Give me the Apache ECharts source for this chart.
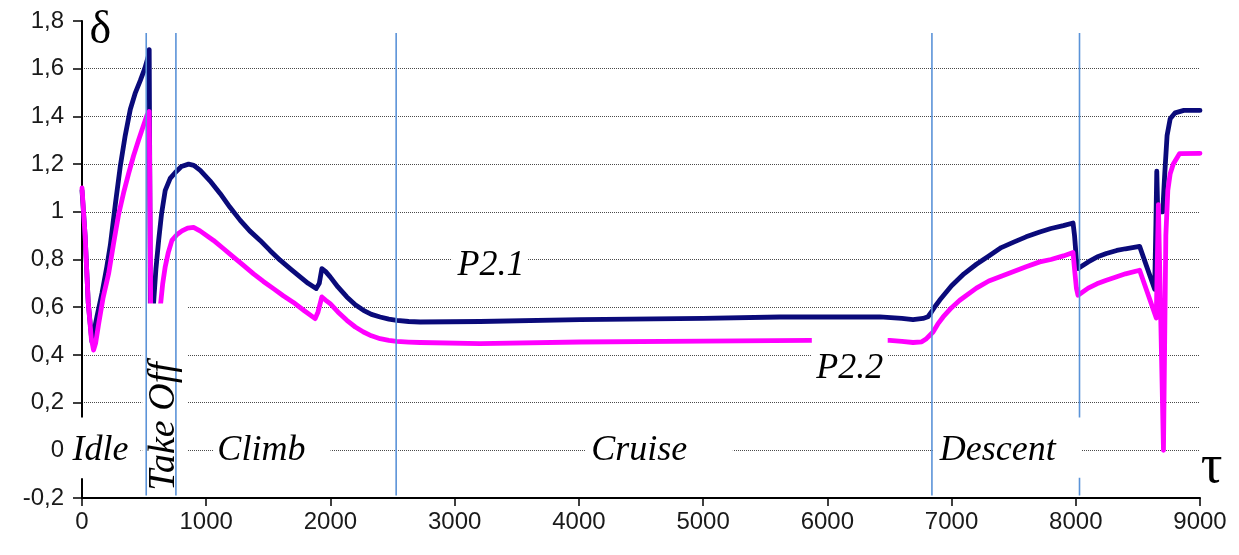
<!DOCTYPE html>
<html>
<head>
<meta charset="utf-8">
<script src="https://cdn.jsdelivr.net/npm/echarts@6/dist/echarts.min.js"></script>
<style>
html,body{margin:0;padding:0;background:#fff;}
#chart{width:1239px;height:555px;}
</style>
</head>
<body>
<div id="chart"></div>
<script>
// ---- data ----
const tauP21 = [0,25,50,80,120,161,200,228,268,308,348,389,430,469,505,533,541,547,552,568,576,595,617,640,670,710,751,800,858,900,952,1030,1113,1190,1274,1350,1434,1515,1595,1680,1756,1820,1885,1910,1931,1960,1998,2060,2132,2200,2266,2330,2400,2470,2534,2630,2722,3204,4009,5000,5618,6422,6600,6690,6770,6810,6838,6870,6905,7000,7100,7200,7300,7400,7500,7600,7710,7800,7900,7978,7990,8005,8018,8100,8170,8246,8330,8400,8514,8635,8645,8652,8660,8700,8715,8735,8760,8800,8870,9000];
const deltaP21 = [1.09,0.90,0.62,0.455,0.56,0.66,0.77,0.86,1.03,1.19,1.32,1.43,1.50,1.55,1.60,1.65,1.68,1.0,0.35,0.35,0.616,0.76,0.88,0.99,1.09,1.14,1.165,1.19,1.20,1.195,1.174,1.13,1.076,1.02,0.964,0.92,0.88,0.837,0.797,0.76,0.727,0.70,0.678,0.70,0.762,0.75,0.727,0.685,0.643,0.61,0.587,0.57,0.559,0.55,0.545,0.540,0.538,0.540,0.548,0.553,0.559,0.559,0.553,0.548,0.553,0.56,0.58,0.605,0.63,0.69,0.74,0.78,0.815,0.85,0.873,0.895,0.915,0.93,0.942,0.953,0.90,0.80,0.762,0.79,0.81,0.825,0.838,0.845,0.855,0.675,0.95,1.17,1.0,1.0,1.15,1.32,1.39,1.415,1.425,1.425];
const tauP22 = [0,25,50,75,93,110,134,170,214,255,295,335,375,415,455,490,523,541,548,556,600,630,650,670,695,724,765,805,850,898,950,1059,1140,1220,1300,1381,1460,1541,1620,1702,1790,1877,1900,1931,1960,1998,2060,2132,2200,2266,2330,2400,2470,2534,2630,2722,3204,4009,5000,5859,6503,6600,6690,6760,6798,6851,6890,6932,7000,7066,7200,7300,7400,7500,7600,7710,7800,7900,7978,7990,8005,8018,8100,8170,8246,8330,8400,8514,8648,8665,8706,8725,8741,8760,8785,8836,9000];
const deltaP22 = [1.10,0.90,0.62,0.47,0.42,0.45,0.53,0.64,0.74,0.87,0.99,1.08,1.16,1.235,1.30,1.355,1.405,1.42,1.0,0.35,0.35,0.6,0.7,0.77,0.83,0.88,0.905,0.92,0.932,0.935,0.92,0.88,0.845,0.81,0.775,0.74,0.708,0.678,0.648,0.62,0.585,0.552,0.58,0.643,0.63,0.615,0.58,0.545,0.517,0.496,0.48,0.468,0.461,0.457,0.454,0.452,0.447,0.454,0.458,0.461,0.461,0.457,0.452,0.455,0.468,0.496,0.53,0.559,0.598,0.629,0.68,0.71,0.73,0.75,0.77,0.79,0.80,0.815,0.829,0.76,0.68,0.65,0.68,0.698,0.713,0.728,0.74,0.755,0.555,1.03,0.0,0.9,1.09,1.16,1.2,1.244,1.245];
const phaseBounds = [517, 756, 2529, 6842, 8030];
const phaseNames = ['Idle', 'Take Off', 'Climb', 'Cruise', 'Descent'];
const seriesNames = ['P2.1', 'P2.2'];
const xTicks = [0, 9000, 1000];
const yTicks = [-0.2, 1.8, 0.2];

const toPairs = (xs, ys) => xs.map((x, i) => [x, ys[i]]);

const chart = echarts.init(document.getElementById('chart'));
const fmtY = v => { const r = Math.round(v * 10) / 10; return String(r).replace('.', ','); };
const splitColors = [];
for (let i = 0; i <= 10; i++) splitColors.push(i === 0 || i === 10 ? 'rgba(0,0,0,0)' : '#4a4a4a');

chart.setOption({
  animation: false,
  backgroundColor: '#fff',
  grid: { left: 82, right: 39, top: 21, bottom: 57, containLabel: false },
  xAxis: {
    type: 'value', min: xTicks[0], max: xTicks[1], interval: xTicks[2],
    axisLine: { onZero: false, lineStyle: { color: '#000', width: 2 } },
    axisTick: { length: 8, lineStyle: { color: '#000', width: 1.5 } },
    axisLabel: { fontFamily: 'Liberation Sans', fontSize: 24, color: '#1a1a1a', margin: 12, formatter: v => String(v) },
    splitLine: { show: false }
  },
  yAxis: {
    type: 'value', min: yTicks[0], max: yTicks[1], interval: yTicks[2],
    axisLine: { show: true, onZero: false, lineStyle: { color: '#000', width: 2 } },
    axisTick: { show: true, length: 9, lineStyle: { color: '#000', width: 1.5 } },
    axisLabel: { fontFamily: 'Liberation Sans', fontSize: 24, color: '#1a1a1a', margin: 18, formatter: fmtY },
    splitLine: { show: true, lineStyle: { color: splitColors, type: 'dotted', width: 1 } }
  },
  series: [
    { name: seriesNames[0], type: 'line', data: toPairs(tauP21, deltaP21), showSymbol: false, symbol: 'none', z: 2,
      lineStyle: { color: '#0a0a7a', width: 4.8, cap: 'round', join: 'round' } },
    { name: seriesNames[1], type: 'line', data: toPairs(tauP22, deltaP22), showSymbol: false, symbol: 'none', z: 3,
      lineStyle: { color: '#ff00ff', width: 4.8, cap: 'round', join: 'round' } }
  ]
});

const P = (x, y) => chart.convertToPixel({ xAxisIndex: 0, yAxisIndex: 0 }, [x, y]);
const box = (x1, y1, x2, y2, z) => {
  const a = P(x1, y1), b = P(x2, y2);
  return { type: 'rect', z: z, silent: true,
    shape: { x: Math.min(a[0], b[0]), y: Math.min(a[1], b[1]), width: Math.abs(b[0] - a[0]), height: Math.abs(b[1] - a[1]) },
    style: { fill: '#fff' } };
};
const txt = (s, x, y, font, z, rot) => {
  const p = P(x, y);
  return { type: 'text', z: z, silent: true, x: p[0], y: p[1], rotation: rot || 0,
    style: { text: s, font: font, fill: '#000', align: 'center', verticalAlign: 'middle' } };
};
const serifIt = 'italic 36px "Liberation Serif"';
const g = [];
// white label boxes
g.push(box(-135, 0.138, 470, -0.117, 10));      // Idle
g.push(box(485, 0.616, 847, -0.19, 10));        // Take Off
g.push(box(1057, 0.1, 2000, -0.1, 10));         // Climb
g.push(box(4049, 0.1, 5239, -0.1, 10));         // Cruise
g.push(box(2979, 0.86, 3590, 0.68, 10));        // P2.1
g.push(box(5875, 0.482, 6486, 0.24, 10));       // P2.2
// phase boundary lines
phaseBounds.forEach(t => {
  const a = P(t, 1.75), b = P(t, -0.19);
  g.push({ type: 'line', z: 20, silent: true, shape: { x1: a[0], y1: a[1], x2: b[0], y2: b[1] },
    style: { stroke: '#5b93d8', lineWidth: 1.6 } });
});
g.push(box(6856, 0.138, 8047, -0.115, 30));      // Descent (covers boundary line)
// texts
g.push(txt(phaseNames[0], 148, 0, serifIt, 40));
g.push(txt(phaseNames[1], 662, 0.1, 'italic 38px "Liberation Serif"', 40, Math.PI / 2));
g.push(txt(phaseNames[2], 1444, 0, serifIt, 40));
g.push(txt(phaseNames[3], 4485, 0, serifIt, 40));
g.push(txt(phaseNames[4], 7372, 0, serifIt, 40));
g.push(txt(seriesNames[0], 3293, 0.776, serifIt, 40));
g.push(txt(seriesNames[1], 6181, 0.344, serifIt, 40));
g.push(txt('δ', 148, 1.76, '46px "Liberation Serif"', 40));
g.push(txt('τ', 9094, -0.075, '54px "Liberation Serif"', 40));
chart.setOption({ graphic: { elements: g } });
</script>
</body>
</html>
